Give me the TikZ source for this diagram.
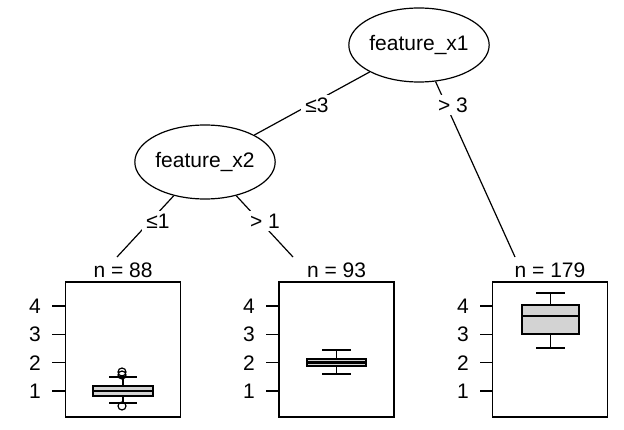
\documentclass[tikz,border=0pt]{standalone}
\usepackage{fontspec}
\setmainfont{Liberation Sans}
\usetikzlibrary{shapes.geometric}
\definecolor{boxgray}{RGB}{211,211,211}
\tikzstyle{splitnode} = [draw=black, ellipse, line width=1.2pt, fill=white, minimum width=128pt, minimum height=74pt, inner sep=0pt]
\tikzstyle{edge} = [draw=black, line width=1.2pt]
\tikzstyle{edgelabel} = [fill=white, inner xsep=4pt, inner ysep=3pt]
\tikzstyle{panel} = [draw=black, line width=1.2pt, minimum width=115pt, minimum height=135pt, inner sep=0pt]
\tikzstyle{bxp} = [draw=black, line width=1.2pt, fill=boxgray]
\tikzstyle{median} = [draw=black, line width=2.6pt]

\begin{document}
\begin{tikzpicture}[x=1pt, y=-1pt, font=\fontsize{21}{25}\selectfont]
\useasboundingbox (0,0) rectangle (624,430);
% inner nodes
\node [splitnode] (featx1) at (419,45) {feature\_x1};
\node [splitnode] (featx2) at (205,162) {feature\_x2};
% terminal panels
\node [panel] (leaf1) at (123,349.5) {};
\node [panel] (leaf2) at (336.5,349.5) {};
\node [panel] (leaf3) at (550,349.5) {};
\node [anchor=base] (nleaf1) at (123,278) {n = 88};
\node [anchor=base] (nleaf2) at (336.5,278) {n = 93};
\node [anchor=base] (nleaf3) at (550,278) {n = 179};
\coordinate (top1) at (117,257);
\coordinate (top2) at (293,257);
\coordinate (top3) at (515,257);
% edges
\draw [edge] (featx1) -- (featx2);
\draw [edge] (featx1) -- (top3);
\draw [edge] (featx2) -- (top1);
\draw [edge] (featx2) -- (top2);
\node [edgelabel] (le3) at (317,105) {≤3};
\node [edgelabel] (gt3) at (453,105) {> 3};
\node [edgelabel] (le1) at (158,221) {≤1};
\node [edgelabel] (gt1) at (265,221) {> 1};
% y axes
\foreach \px in {65,279,493} {
    \foreach \v in {1,...,4} {
        \draw [line width=1.2pt] (\px-13, {391-28.3*(\v-1)}) -- (\px, {391-28.3*(\v-1)});
        \node at (\px-30, {391-28.3*(\v-1)}) {\v};
    }
}
% boxplot leaf 1
\draw [edge] (123,386) -- (123,377) (109,377) -- (137,377);
\draw [edge] (123,396) -- (123,403) (109,403) -- (137,403);
\draw [bxp] (93,386) rectangle (153,396);
\draw [median] (93,391) -- (153,391);
\draw [edge] (122,372) circle (4pt) (122,375) circle (4pt) (122,406) circle (4pt);
% boxplot leaf 2
\draw [edge] (336.5,359) -- (336.5,350) (322,350) -- (351,350);
\draw [edge] (336.5,366) -- (336.5,374) (322,374) -- (351,374);
\draw [bxp] (307,359) rectangle (366,366);
\draw [median] (307,362.5) -- (366,362.5);
% boxplot leaf 3
\draw [edge] (550.5,305) -- (550.5,293) (536,293) -- (565,293);
\draw [edge] (550.5,334) -- (550.5,348) (536,348) -- (565,348);
\draw [bxp] (522,305) rectangle (579,334);
\draw [median] (522,316) -- (579,316);
\end{tikzpicture}
\end{document}
